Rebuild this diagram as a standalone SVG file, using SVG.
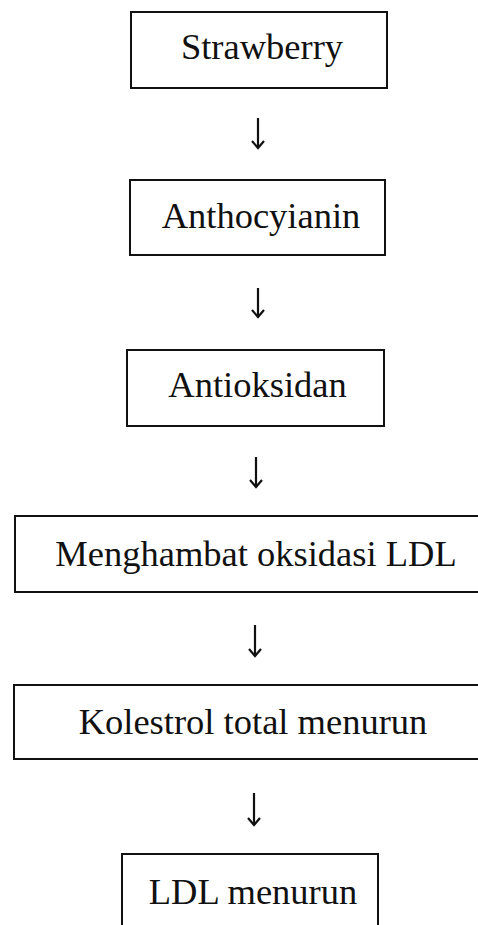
<svg xmlns="http://www.w3.org/2000/svg" width="478" height="925" viewBox="0 0 478 925">
<style>
.box{fill:#fff;stroke:#111;stroke-width:2}
.lbl{font-family:"Liberation Serif","Times New Roman",serif;font-size:36.5px;fill:#111;text-anchor:middle}
.arr{stroke:#111;stroke-width:2.2;fill:none}
.head{stroke:#111;stroke-width:2.2;fill:none;stroke-linejoin:miter}
</style>
<rect width="478" height="925" fill="#fff"/>
<g id="n1"><rect class="box" x="131" y="12" width="256" height="76"/><text class="lbl" x="262" y="59">Strawberry</text></g>
<g id="n2"><rect class="box" x="130" y="180" width="255" height="75"/><text class="lbl" x="261" y="228">Anthocyianin</text></g>
<g id="n3"><rect class="box" x="127" y="350" width="257" height="76"/><text class="lbl" x="257.5" y="397">Antioksidan</text></g>
<g id="n4"><path class="box" d="M479 516 H15 V592 H479"/><text class="lbl" x="256" y="566">Menghambat oksidasi LDL</text></g>
<g id="n5"><path class="box" d="M479 685 H14 V759 H479"/><text class="lbl" x="253" y="734">Kolestrol total menurun</text></g>
<g id="n6"><path class="box" d="M122 927 V854 H378 V927"/><text class="lbl" x="253" y="904">LDL menurun</text></g>
<g id="connectors">
<path class="arr" d="M258 118 V148"/><path class="head" d="M252 141 L258 148 L264 141"/>
<path class="arr" d="M258 288 V317"/><path class="head" d="M252 310 L258 317 L264 310"/>
<path class="arr" d="M256 457 V487"/><path class="head" d="M250 480 L256 487 L262 480"/>
<path class="arr" d="M255 625 V656"/><path class="head" d="M249 649 L255 656 L261 649"/>
<path class="arr" d="M254 793 V825"/><path class="head" d="M248 818 L254 825 L260 818"/>
</g>
</svg>
